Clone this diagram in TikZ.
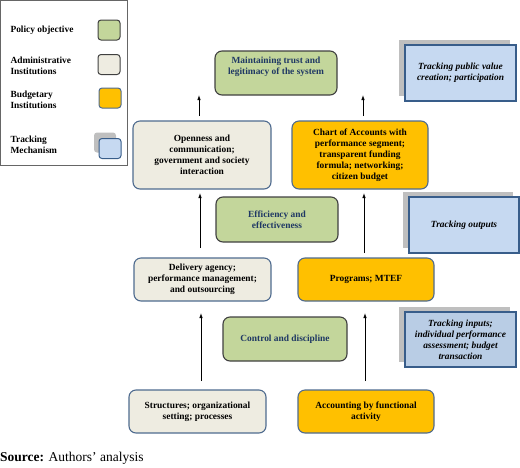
\documentclass[tikz,border=0pt]{standalone}
\usepackage{fontspec}
\setmainfont{Liberation Serif}
\usetikzlibrary{arrows.meta,shadows}

\definecolor{mgreen}{HTML}{C3D69B}
\definecolor{mbeige}{HTML}{EEECE1}
\definecolor{morange}{HTML}{FFC000}
\definecolor{mblue}{HTML}{C6D9F1}
\definecolor{mblueb}{HTML}{B9CDE5}
\definecolor{mgray}{HTML}{BFBFBF}
\definecolor{mnavy}{HTML}{385D8A}
\definecolor{mslate}{HTML}{4F6B8F}
\definecolor{mink}{HTML}{1F3864}
\definecolor{mdark}{HTML}{404040}
\newcommand*{\colPol}{mgreen}
\newcommand*{\colAdm}{mbeige}
\newcommand*{\colBud}{morange}
\newcommand*{\colTrk}{mblue}
\newcommand*{\boxFont}{\fontsize{9.4}{11}\selectfont\bfseries}

\tikzset{
    box/.style={rectangle, rounded corners=7pt, draw, line width=1.1pt, align=center, font=\boxFont, inner sep=2pt},
    polbox/.style={box, fill=\colPol, draw=mdark, text=mink},
    admbox/.style={box, fill=\colAdm, draw=mslate},
    budbox/.style={box, fill=\colBud, draw=mslate},
    trkbox/.style={rectangle, draw=mnavy, line width=1.1pt, fill=\colTrk, align=center, font=\boxFont\itshape,
        drop shadow={shadow xshift=-6pt, shadow yshift=5pt, fill=mgray, opacity=1}},
    swatch/.style={rectangle, rounded corners=3pt, line width=1pt, minimum width=22pt, minimum height=20pt},
    legtext/.style={anchor=west, align=left, font=\boxFont},
    flow/.style={draw, line width=0.8pt, -{Latex[length=5pt,width=3.5pt]}}
}

\begin{document}
\begin{tikzpicture}[x=1pt,y=-1pt]

    \useasboundingbox (0,0) rectangle (520,467);

    % legend
    \draw [mdark!80, line width=0.8pt] (0.5,0.5) rectangle (127,165);
    \node [legtext] (lpol) at (7,30) {Policy objective};
    \node [legtext] (ladm) at (7,66) {Administrative\\Institutions};
    \node [legtext] (lbud) at (7,100) {Budgetary\\Institutions};
    \node [legtext] (ltrk) at (7,145) {Tracking\\Mechanism};
    \node [swatch, fill=\colPol, draw=mdark] (spol) at (109,30) {};
    \node [swatch, fill=\colAdm, draw=mdark] (sadm) at (109,64.5) {};
    \node [swatch, fill=\colBud, draw=mslate] (sbud) at (110,98) {};
    \node [swatch, fill=\colTrk, draw=mnavy,
        drop shadow={shadow xshift=-5pt, shadow yshift=6pt, fill=mgray, opacity=1}] (strk) at (110,148.5) {};

    % policy objectives
    \node [polbox, minimum width=122pt, minimum height=44pt] (trust) at (276,73) {Maintaining trust and\\legitimacy of the system\\[4pt]};
    \node [polbox, minimum width=122pt, minimum height=45pt] (effic) at (277,219.5) {Efficiency and\\effectiveness};
    \node [polbox, minimum width=124pt, minimum height=44pt] (ctrl) at (285,339) {Control and discipline};

    % administrative institutions
    \node [admbox, minimum width=138pt, minimum height=68pt] (open) at (202,155) {Openness and\\communication;\\government and society\\interaction};
    \node [admbox, minimum width=137pt, minimum height=43pt] (deliv) at (202.5,279.5) {Delivery agency;\\performance management;\\and outsourcing};
    \node [admbox, minimum width=137pt, minimum height=43pt] (struct) at (197.5,411.5) {Structures; organizational\\setting; processes};

    % budgetary institutions
    \node [budbox, minimum width=136pt, minimum height=68pt] (chart) at (360,155) {Chart of Accounts with\\performance segment;\\transparent funding\\formula; networking;\\citizen budget};
    \node [budbox, minimum width=136pt, minimum height=43pt] (prog) at (366,279.5) {Programs; MTEF};
    \node [budbox, minimum width=136pt, minimum height=43pt] (acct) at (366,411.5) {Accounting by functional\\activity};

    % tracking mechanisms
    \node [trkbox, minimum width=111pt, minimum height=56pt] (pubval) at (460.5,73) {Tracking public value\\creation; participation};
    \node [trkbox, minimum width=110pt, minimum height=56pt] (outp) at (464,225) {Tracking outputs};
    \node [trkbox, fill=mblueb, minimum width=111pt, minimum height=55pt] (inp) at (460.5,339.5) {Tracking inputs;\\individual performance\\assessment; budget\\transaction};

    % arrows
    \coordinate (a1s) at (201,381);
    \coordinate (a1e) at (201,313);
    \coordinate (a2s) at (365,381);
    \coordinate (a2e) at (365,313);
    \coordinate (a3s) at (200,248);
    \coordinate (a3e) at (200,193);
    \coordinate (a4s) at (364,253);
    \coordinate (a4e) at (364,193);
    \coordinate (a5s) at (199,116);
    \coordinate (a5e) at (199,95);
    \coordinate (a6s) at (363,116);
    \coordinate (a6e) at (363,95);
    \foreach \i in {1,...,6} {
        \path [flow] (a\i s) -- (a\i e);
    }

    % source line
    \node [anchor=west, inner sep=0pt, font=\fontsize{13.5}{15}\selectfont] (src) at (0,458) {\textbf{Source:} Authors’ analysis};

\end{tikzpicture}
\end{document}
